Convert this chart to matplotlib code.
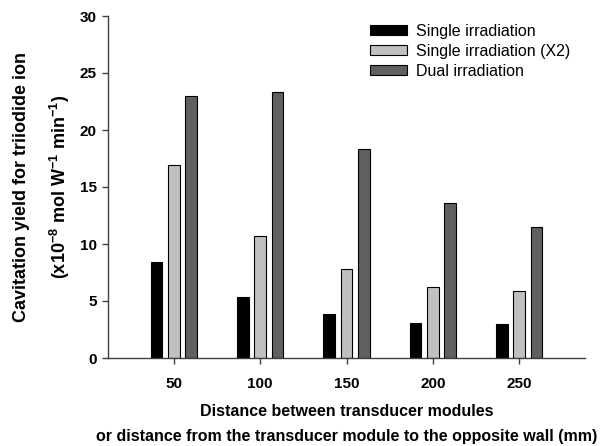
import matplotlib
matplotlib.use("Agg")
import matplotlib.pyplot as plt
import numpy as np

plt.rcParams['font.family'] = ['Liberation Sans', 'DejaVu Sans']
plt.rcParams['mathtext.fontset'] = 'custom'
plt.rcParams['mathtext.rm'] = 'Liberation Sans:bold'
plt.rcParams['mathtext.it'] = 'Liberation Sans:bold'
plt.rcParams['mathtext.bf'] = 'Liberation Sans:bold'
plt.rcParams['mathtext.default'] = 'rm'

distances = ['50', '100', '150', '200', '250']
single = [8.45, 5.35, 3.9, 3.1, 2.95]
single_x2 = [16.95, 10.73, 7.85, 6.27, 5.9]
dual = [23.0, 23.3, 18.35, 13.6, 11.47]

series = [
    ("Single irradiation", single, "black"),
    ("Single irradiation (X2)", single_x2, "#c0c0c0"),
    ("Dual irradiation", dual, "#606060"),
]

W, H = 610, 446
fig = plt.figure(figsize=(W / 100, H / 100), dpi=100)
ax = fig.add_axes([108 / W, 1 - 358 / H, 477 / W, 342 / H])

x = np.arange(len(distances))
offsets = [-0.2, 0.0, 0.2]
for (name, vals, color), off in zip(series, offsets):
    ax.bar(x + off, vals, width=0.135, color=color, edgecolor='black',
           linewidth=0.8, label=name)

ax.set_xlim(-0.76, 4.76)
ax.set_ylim(0, 30)
ax.set_yticks(np.arange(0, 31, 5))
ax.set_xticks(x)
ax.set_xticklabels(distances)

for s in ['top', 'right']:
    ax.spines[s].set_visible(False)
for s in ['left', 'bottom']:
    ax.spines[s].set_color('#404040')
    ax.spines[s].set_linewidth(1.0)
ax.tick_params(axis='both', direction='out', length=4, width=1.0, color='#404040',
               labelsize=11)
ax.tick_params(axis='x', pad=10)
ax.tick_params(axis='y', pad=4)
for lbl in ax.get_xticklabels() + ax.get_yticklabels():
    lbl.set_fontweight('bold')

# y label, two lines
fig.text(22 / W, 1 - 187 / H, "Cavitation yield for triiodide ion", rotation=90,
         ha='center', va='center', fontsize=13, fontweight='bold')
fig.text(60 / W, 1 - 187 / H, "(x10$^{-8}$ mol W$^{-1}$ min$^{-1}$)", rotation=90,
         ha='center', va='center', fontsize=13, fontweight='bold')

# x label, two lines
fig.text(346.5 / W, 1 - 411 / H, "Distance between transducer modules",
         ha='center', va='center', fontsize=11.5, fontweight='bold')
fig.text(346.5 / W, 1 - 437 / H,
         "or distance from the transducer module to the opposite wall (mm)",
         ha='center', va='center', fontsize=11.5, fontweight='bold')

ax.legend(loc='upper left', bbox_to_anchor=(370 / W, 1 - 24 / H),
          bbox_transform=fig.transFigure, frameon=False, borderpad=0,
          borderaxespad=0, fontsize=11.5, handlelength=2.3, handleheight=0.6,
          handletextpad=0.55, labelspacing=0.3)

fig.savefig("out.png", dpi=100)
